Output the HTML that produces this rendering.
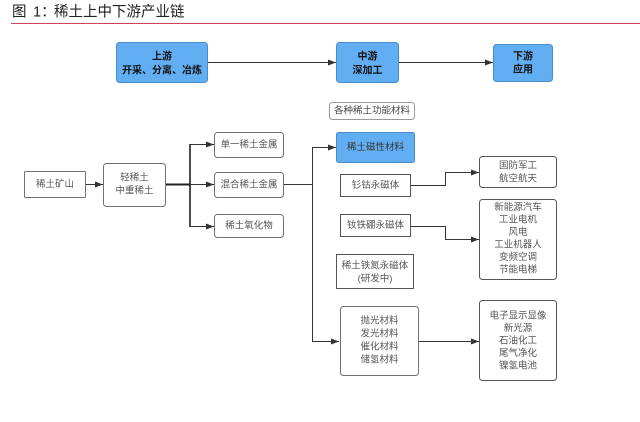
<!DOCTYPE html>
<html><head><meta charset="utf-8"><style>
html,body{margin:0;padding:0;background:#fff;}
svg{display:block;}
text{font-family:"Liberation Sans","Noto Sans CJK SC",sans-serif;}
.t{font-size:9.5px;fill:#555;text-anchor:middle;dominant-baseline:central;}
.b{font-size:10px;fill:#111;font-weight:bold;text-anchor:middle;dominant-baseline:central;}
.bx{fill:#fff;stroke:#707070;stroke-width:1;}
.bl{fill:#62aef3;stroke:#4a8cc9;stroke-width:1;}
.ln{fill:none;stroke:#333;stroke-width:1;}
</style></head><body>
<svg width="640" height="422" viewBox="0 0 640 422" xmlns="http://www.w3.org/2000/svg">
<defs>
<marker id="a" markerUnits="userSpaceOnUse" markerWidth="8" markerHeight="6" refX="8" refY="3" orient="auto">
<path d="M0,0 L8,3 L0,6 Z" fill="#333"/>
</marker>
</defs>
<!-- title -->
<text x="12" y="12.5" style="font-size:14.5px;fill:#222;dominant-baseline:central;">图</text>
<text x="33" y="12.5" style="font-size:14.5px;fill:#222;dominant-baseline:central;">1：</text>
<text x="54" y="12.5" style="font-size:14.5px;fill:#222;dominant-baseline:central;">稀土上中下游产业链</text>
<line x1="11" y1="23.5" x2="640" y2="23.5" stroke="#c9475a" stroke-width="1"/>

<!-- top row -->
<rect class="bl" x="116.5" y="42.5" width="91" height="40" rx="3"/>
<text class="b" x="162" y="57">上游</text>
<text class="b" x="162" y="71">开采、分离、冶炼</text>
<line class="ln" x1="208" y1="62.5" x2="336" y2="62.5" marker-end="url(#a)"/>
<rect class="bl" x="336.5" y="42.5" width="62" height="40" rx="3"/>
<text class="b" x="367.5" y="57">中游</text>
<text class="b" x="367.5" y="71">深加工</text>
<line class="ln" x1="399" y1="62.5" x2="493" y2="62.5" marker-end="url(#a)"/>
<rect class="bl" x="493.5" y="44.5" width="59" height="37" rx="3"/>
<text class="b" x="523" y="57">下游</text>
<text class="b" x="523" y="70">应用</text>

<!-- left chain -->
<rect class="bx" x="24.5" y="171.5" width="61" height="26" rx="1"/>
<text class="t" x="55" y="184.5">稀土矿山</text>
<line class="ln" x1="86" y1="184.5" x2="103" y2="184.5" marker-end="url(#a)"/>
<rect class="bx" x="103.5" y="163.5" width="62" height="43" rx="3"/>
<text class="t" x="134.5" y="178">轻稀土</text>
<text class="t" x="134.5" y="191">中重稀土</text>
<line x1="166" y1="184.5" x2="191" y2="184.5" stroke="#222" stroke-width="2"/>
<line x1="190" y1="144" x2="190" y2="227" stroke="#222" stroke-width="1.6"/>
<line class="ln" x1="190" y1="144.5" x2="214" y2="144.5" marker-end="url(#a)"/>
<line class="ln" x1="190" y1="184.5" x2="214" y2="184.5" marker-end="url(#a)"/>
<line class="ln" x1="190" y1="226.5" x2="214" y2="226.5" marker-end="url(#a)"/>
<rect class="bx" x="214.5" y="132.5" width="69" height="25" rx="3"/>
<text class="t" x="249" y="145">单一稀土金属</text>
<rect class="bx" x="214.5" y="172.5" width="69" height="25" rx="3"/>
<text class="t" x="249" y="185">混合稀土金属</text>
<rect class="bx" x="214.5" y="214.5" width="69" height="23" rx="3"/>
<text class="t" x="249" y="226">稀土氧化物</text>

<!-- middle -->
<line class="ln" x1="284" y1="184.5" x2="312.5" y2="184.5" stroke-width="1.3"/>
<line class="ln" x1="312.5" y1="147" x2="312.5" y2="341.5"/>
<line class="ln" x1="312" y1="147.5" x2="336" y2="147.5" marker-end="url(#a)"/>
<line class="ln" x1="312" y1="341.5" x2="339" y2="341.5" marker-end="url(#a)"/>

<rect x="329.5" y="102.5" width="85" height="17" rx="3" fill="#fff" stroke="#999"/>
<text class="t" x="372" y="111" style="fill:#444">各种稀土功能材料</text>
<rect class="bl" x="336.5" y="132.5" width="78" height="30" rx="2"/>
<text class="t" x="375.5" y="147.5" style="fill:#333">稀土磁性材料</text>

<rect x="340.5" y="174.5" width="70" height="22" fill="#fff" stroke="#555"/>
<text class="t" x="375.5" y="185.5">钐钴永磁体</text>
<polyline class="ln" points="411,185.5 445.5,185.5 445.5,172.5 479,172.5" marker-end="url(#a)"/>

<rect x="340.5" y="214.5" width="70" height="22" fill="#fff" stroke="#555"/>
<text class="t" x="375.5" y="225.5">钕铁硼永磁体</text>
<polyline class="ln" points="411,226.5 445.5,226.5 445.5,239.5 479,239.5" marker-end="url(#a)"/>

<rect x="336.5" y="254.5" width="77" height="34" fill="#fff" stroke="#555"/>
<text class="t" x="375" y="266">稀土铁氮永磁体</text>
<text class="t" x="375" y="279">(研发中)</text>

<rect class="bx" x="340.5" y="306.5" width="78" height="69" rx="3"/>
<text class="t" x="379.5" y="321">抛光材料</text>
<text class="t" x="379.5" y="334">发光材料</text>
<text class="t" x="379.5" y="347">催化材料</text>
<text class="t" x="379.5" y="360">储氢材料</text>
<line class="ln" x1="419" y1="341.5" x2="479" y2="341.5" marker-end="url(#a)"/>

<!-- right -->
<rect class="bx" x="479.5" y="156.5" width="77" height="31" rx="3" style="stroke:#555"/>
<text class="t" x="518" y="166">国防军工</text>
<text class="t" x="518" y="179">航空航天</text>

<rect class="bx" x="479.5" y="199.5" width="77" height="80" rx="3" style="stroke:#555"/>
<text class="t" x="518" y="207.5">新能源汽车</text>
<text class="t" x="518" y="220">工业电机</text>
<text class="t" x="518" y="232.5">风电</text>
<text class="t" x="518" y="245">工业机器人</text>
<text class="t" x="518" y="257.5">变频空调</text>
<text class="t" x="518" y="270">节能电梯</text>

<rect class="bx" x="479.5" y="300.5" width="77" height="80" rx="3" style="stroke:#555"/>
<text class="t" x="518" y="316">电子显示显像</text>
<text class="t" x="518" y="328.5">新光源</text>
<text class="t" x="518" y="341">石油化工</text>
<text class="t" x="518" y="353.5">尾气净化</text>
<text class="t" x="518" y="366">镍氢电池</text>
</svg>
</body></html>
